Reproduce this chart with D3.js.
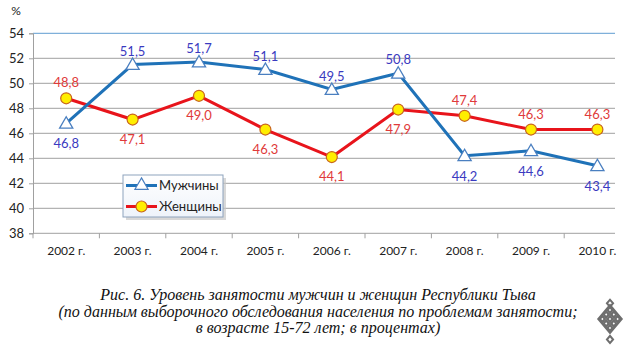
<!DOCTYPE html>
<html><head><meta charset="utf-8">
<script src="https://cdn.jsdelivr.net/npm/d3@7"></script>
<style>body{margin:0;background:#fff}svg{display:block}</style>
</head><body>
<svg id="c" width="634" height="349"></svg>
<script>
const categories = ["2002 г.","2003 г.","2004 г.","2005 г.","2006 г.","2007 г.","2008 г.","2009 г.","2010 г."];
const men = [46.8,51.5,51.7,51.1,49.5,50.8,44.2,44.6,43.4];
const women = [48.8,47.1,49.0,46.3,44.1,47.9,47.4,46.3,46.3];
const menLabelPos = ["below","above","above","above","above","above","below","below","below"];
const womenLabelPos = ["above","below","below","below","below","below","above","above","above"];
const yTicks = [38,40,42,44,46,48,50,52,54];
const seriesNames = ["Мужчины","Женщины"];
const captionLines = ["Рис. 6. Уровень занятости мужчин и женщин Республики Тыва","(по данным выборочного обследования населения по проблемам занятости;","в возрасте 15-72 лет; в процентах)"];

const svg = d3.select("#c");
const L = 33, R = 615, T = 33.3, B = 233.3;
const x = d3.scaleBand().domain(categories).range([L, L + 9*66.4]);
const y = d3.scaleLinear().domain([38,54]).range([B, T]);
const cx = d => x(d) + x.bandwidth()/2;
const font = "Lato, 'Open Sans', sans-serif";

// gridlines
svg.append("g").selectAll("line").data(yTicks.filter(t=>t>38)).join("line")
  .attr("x1", L).attr("x2", R).attr("y1", d=>y(d)).attr("y2", d=>y(d))
  .attr("stroke", d=> d===54 ? "#7fb0da" : "#b3b3b3").attr("stroke-width", 1.3);

// y axis
const ya = svg.append("g").attr("transform",`translate(${L},0)`)
  .call(d3.axisLeft(y).tickValues(yTicks).tickSize(4).tickPadding(5));
ya.select(".domain").attr("stroke","#a0a0a0");
ya.selectAll(".tick line").attr("stroke","#a0a0a0");
ya.selectAll("text").attr("font-family",font).attr("font-size",13).attr("fill","#222");
svg.append("text").attr("x",16).attr("y",15).attr("text-anchor","middle")
  .attr("font-family",font).attr("font-size",12).attr("fill","#222").text("%");

// x axis
svg.append("line").attr("x1",L).attr("x2",R).attr("y1",B).attr("y2",B).attr("stroke","#a0a0a0");
svg.append("g").selectAll("line").data(categories.filter(c=>x(c)<R)).join("line")
  .attr("x1",d=>x(d)).attr("x2",d=>x(d)).attr("y1",B).attr("y2",B+5).attr("stroke","#a0a0a0");
svg.append("g").selectAll("text").data(categories).join("text")
  .attr("x",d=>cx(d)).attr("y",B+22).attr("text-anchor","middle")
  .attr("font-family",font).attr("font-size",12).attr("fill","#222").text(d=>d);

const line = d3.line().x((d,i)=>cx(categories[i])).y(d=>y(d));

// women
svg.append("path").datum(women).attr("d",line).attr("fill","none")
  .attr("stroke","#e8141b").attr("stroke-width",3);
// men
svg.append("path").datum(men).attr("d",line).attr("fill","none")
  .attr("stroke","#1f72b8").attr("stroke-width",3);

const tri = d3.symbol().type(d3.symbolTriangle).size(75);
svg.append("g").selectAll("path").data(men).join("path")
  .attr("d",tri).attr("transform",(d,i)=>`translate(${cx(categories[i])},${y(d)+1})`)
  .attr("fill","#fff").attr("stroke","#4a7fc0").attr("stroke-width",1.3);
svg.append("g").selectAll("circle").data(women).join("circle")
  .attr("cx",(d,i)=>cx(categories[i])).attr("cy",d=>y(d)).attr("r",5.5)
  .attr("fill","#ffee00").attr("stroke","#c8641e").attr("stroke-width",1.2);

const fmt = v => v.toFixed(1).replace(".",",");
svg.append("g").selectAll("text").data(men).join("text")
  .attr("x",(d,i)=>cx(categories[i])).attr("y",(d,i)=> menLabelPos[i]==="above" ? y(d)-9 : y(d)+25)
  .attr("text-anchor","middle").attr("font-family",font).attr("font-size",13)
  .attr("fill","#3a3ac0").text(fmt);
svg.append("g").selectAll("text").data(women).join("text")
  .attr("x",(d,i)=>cx(categories[i])).attr("y",(d,i)=> womenLabelPos[i]==="above" ? y(d)-11 : y(d)+24)
  .attr("text-anchor","middle").attr("font-family",font).attr("font-size",13)
  .attr("fill","#e03a3a").text(fmt);

// legend
const lg = svg.append("g");
const defs = svg.append("defs");
const gr = defs.append("linearGradient").attr("id","lgf").attr("x1",0).attr("y1",0).attr("x2",0).attr("y2",1);
gr.append("stop").attr("offset",0).attr("stop-color","#ffffff");
gr.append("stop").attr("offset",1).attr("stop-color","#eef3fa");
lg.append("rect").attr("x",126).attr("y",178).attr("width",100).attr("height",42).attr("fill","#c8c8c8").attr("opacity",0.7);
lg.append("rect").attr("x",123).attr("y",175).attr("width",100).attr("height",42)
  .attr("fill","url(#lgf)").attr("stroke","#8ea3bd").attr("stroke-width",1);
const rows = [185.5, 206.5];
lg.append("line").attr("x1",126).attr("x2",157).attr("y1",rows[0]).attr("y2",rows[0]).attr("stroke","#1f72b8").attr("stroke-width",3);
lg.append("path").attr("d",tri).attr("transform",`translate(141.5,${rows[0]})`).attr("fill","#fff").attr("stroke","#4a7fc0").attr("stroke-width",1.2);
lg.append("line").attr("x1",126).attr("x2",157).attr("y1",rows[1]).attr("y2",rows[1]).attr("stroke","#e8141b").attr("stroke-width",3);
lg.append("circle").attr("cx",141.5).attr("cy",rows[1]).attr("r",5.5).attr("fill","#ffee00").attr("stroke","#c8641e").attr("stroke-width",1.2);
lg.selectAll("text.l").data(seriesNames).join("text").attr("class","l")
  .attr("x",159).attr("y",(d,i)=>rows[i]+4.5).attr("font-family",font).attr("font-size",13)
  .attr("fill","#222").text(d=>d);

// caption
svg.append("g").selectAll("text").data(captionLines).join("text")
  .attr("x",318).attr("y",(d,i)=>300+i*16.5).attr("text-anchor","middle")
  .attr("font-family","'Liberation Serif', 'Times New Roman', serif").attr("font-style","italic")
  .attr("font-size",16).attr("fill","#111").text(d=>d);

// emblem (endless knot-like lattice)
const em = svg.append("g").attr("transform","translate(610,319) scale(0.72,0.85) rotate(45)");
const s = 5;
for (let i=-1;i<=1;i++) for (let j=-1;j<=1;j++) {
  em.append("rect").attr("x",i*s*1.5-s/2).attr("y",j*s*1.5-s/2).attr("width",s).attr("height",s)
    .attr("fill","none").attr("stroke","#6e6e6e").attr("stroke-width",2.8);
}
em.append("rect").attr("x",-s*1.5-s/2-1.5).attr("y",-s*1.5-s/2-1.5).attr("width",s*4+3).attr("height",s*4+3)
  .attr("fill","none").attr("stroke","#6e6e6e").attr("stroke-width",2.6);
em.append("rect").attr("x",-s*1.5-s/2-6).attr("y",-s*1.5-s/2-6).attr("width",6).attr("height",6)
  .attr("fill","none").attr("stroke","#6e6e6e").attr("stroke-width",2.6);
em.append("rect").attr("x",s*2.5+1.5).attr("y",s*2.5+1.5).attr("width",6).attr("height",6)
  .attr("fill","none").attr("stroke","#6e6e6e").attr("stroke-width",2.6);
</script>
</body></html>
